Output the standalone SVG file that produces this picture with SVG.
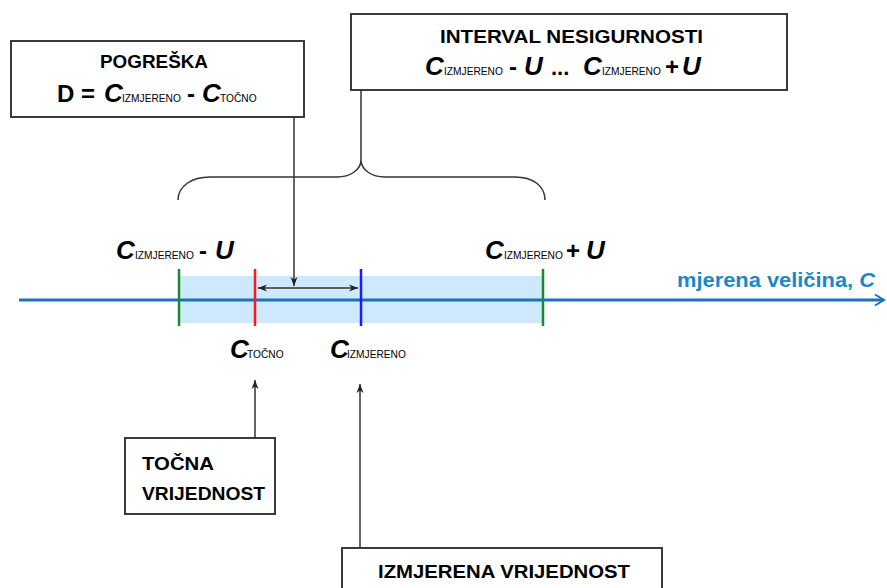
<svg xmlns="http://www.w3.org/2000/svg" width="887" height="588" viewBox="0 0 887 588">
<style>
.t{font-family:"Liberation Sans",Arial,sans-serif;font-weight:bold;fill:#000}
.b{font-size:19px}
.c{font-style:italic;font-size:26px}
.s{font-size:10.2px;font-weight:normal}
.o{font-size:24px}
.box{fill:#fff;stroke:#3a3a3a;stroke-width:2}
.con{stroke:#333;stroke-width:1.5;fill:none}
</style>
<defs>
<marker id="ah" markerWidth="10" markerHeight="10" refX="9" refY="5" orient="auto-start-reverse" markerUnits="userSpaceOnUse">
<path d="M0,1.5 L9,5 L0,8.5 L2.5,5 Z" fill="#222"/>
</marker>
<marker id="axh" markerWidth="14" markerHeight="14" refX="11" refY="7" orient="auto" markerUnits="userSpaceOnUse">
<path d="M2,1.5 L11,7 L2,12.5" fill="none" stroke="#1a72c0" stroke-width="2"/>
</marker>
</defs>

<g id="band">
<rect x="179" y="276" width="364" height="47" fill="#cde9fb"/>
</g>

<g id="axis">
<line x1="19" y1="300" x2="884" y2="300" stroke="#1a72c0" stroke-width="3" marker-end="url(#axh)"/>
<text class="t" x="677" y="287" style="fill:#1b87c9;font-size:20px" textLength="198" lengthAdjust="spacingAndGlyphs">mjerena veličina, <tspan style="font-style:italic">C</tspan></text>
</g>

<g id="marks">
<line x1="179" y1="269" x2="179" y2="326" stroke="#1a8a2a" stroke-width="2.5"/>
<line x1="543" y1="269" x2="543" y2="326" stroke="#1a8a2a" stroke-width="2.5"/>
<line x1="255" y1="269" x2="255" y2="326" stroke="#ff1a1a" stroke-width="2.5"/>
<line x1="361" y1="269" x2="361" y2="326" stroke="#1a1aff" stroke-width="2.5"/>
</g>

<g id="pogreska">
<rect class="box" x="11" y="41" width="293" height="76"/>
<text class="t b" x="154" y="68" text-anchor="middle" textLength="108" lengthAdjust="spacingAndGlyphs">POGREŠKA</text>
<text class="t" y="102"><tspan class="o" x="57">D</tspan><tspan class="o" x="81">=</tspan><tspan class="c" x="104">C</tspan><tspan class="s" x="122">IZMJERENO</tspan><tspan class="o" x="187">-</tspan><tspan class="c" x="202">C</tspan><tspan class="s" x="220">TOČNO</tspan></text>
</g>

<g id="interval">
<rect class="box" x="351" y="14" width="436" height="76"/>
<text class="t b" x="440" y="43" textLength="263" lengthAdjust="spacingAndGlyphs">INTERVAL NESIGURNOSTI</text>
<text class="t" y="75"><tspan class="c" x="425">C</tspan><tspan class="s" x="444">IZMJERENO</tspan><tspan class="o" x="509">-</tspan><tspan class="c" x="524">U</tspan><tspan class="o" x="551" style="font-size:22px">...</tspan><tspan class="c" x="583">C</tspan><tspan class="s" x="602">IZMJERENO</tspan><tspan class="o" x="665">+</tspan><tspan class="c" x="682">U</tspan></text>
</g>

<g id="label-minus">
<text class="t" y="259"><tspan class="c" x="116">C</tspan><tspan class="s" x="135">IZMJERENO</tspan><tspan class="o" x="199">-</tspan><tspan class="c" x="215">U</tspan></text>
</g>

<g id="label-plus">
<text class="t" y="259"><tspan class="c" x="485">C</tspan><tspan class="s" x="504">IZMJERENO</tspan><tspan class="o" x="566">+</tspan><tspan class="c" x="586">U</tspan></text>
</g>

<g id="label-tocno">
<text class="t" y="358"><tspan class="c" x="230">C</tspan><tspan class="s" x="247">TOČNO</tspan></text>
</g>

<g id="label-izmjereno">
<text class="t" y="358"><tspan class="c" x="330">C</tspan><tspan class="s" x="347">IZMJERENO</tspan></text>
</g>

<g id="tocna">
<rect class="box" x="125" y="438" width="150" height="76"/>
<text class="t b" x="142" y="470" textLength="72" lengthAdjust="spacingAndGlyphs">TOČNA</text>
<text class="t b" x="142" y="500" textLength="123" lengthAdjust="spacingAndGlyphs">VRIJEDNOST</text>
</g>

<g id="izmjerena">
<rect class="box" x="342" y="548" width="320" height="50"/>
<text class="t b" x="378" y="578" textLength="252" lengthAdjust="spacingAndGlyphs">IZMJERENA VRIJEDNOST</text>
</g>

<g id="connectors">
<path class="con" d="M178,200 C178,186 192,177 210,177 L337,177 C350,177 361,170 361,160 C361,170 372,177 385,177 L515,177 C533,177 545,186 545,200"/>
<line class="con" x1="361" y1="90" x2="361" y2="160"/>
<line class="con" x1="294" y1="117" x2="294" y2="286" marker-end="url(#ah)"/>
<line class="con" x1="258" y1="288" x2="358" y2="288" marker-start="url(#ah)" marker-end="url(#ah)"/>
<line class="con" x1="255" y1="438" x2="255" y2="380" marker-end="url(#ah)"/>
<line class="con" x1="360" y1="548" x2="360" y2="384" marker-end="url(#ah)"/>
</g>
</svg>
